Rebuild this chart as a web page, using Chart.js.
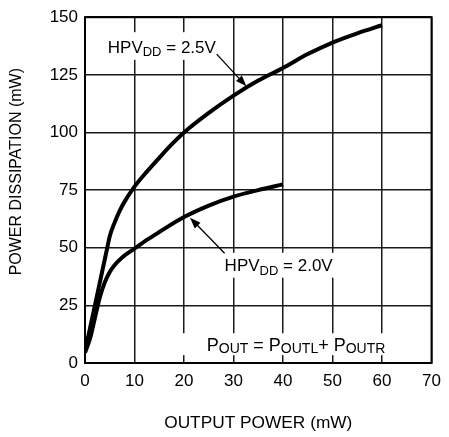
<!DOCTYPE html>
<html>
<head>
<meta charset="utf-8">
<script src="https://cdn.jsdelivr.net/npm/chart.js@4.4.1/dist/chart.umd.min.js"></script>
<style>
  html, body { margin: 0; padding: 0; background: #fff; }
</style>
</head>
<body>
<canvas id="powerChart" width="449" height="437"></canvas>
<script>
// HPVdd = 2.5V curve
const outPower25 = [0, 1, 2, 3, 4, 4.5, 5, 6, 7, 8, 10, 12.5, 15, 17.5, 20, 25, 30, 35, 40, 45, 50, 55, 60];
const dissipation25 = [5, 15, 25, 35, 45, 50, 55, 61, 66, 70, 76.5, 83, 89, 94.8, 100, 108.5, 116, 122.5, 128, 134, 139, 143, 146.5];

// HPVdd = 2.0V curve
const outPower20 = [0, 1, 2, 3, 4, 5, 6, 7.5, 10, 12.5, 15, 20, 25, 30, 35, 40];
const dissipation20 = [4.5, 10.5, 19.5, 28.5, 35, 39.5, 42.5, 45.8, 49.6, 53.4, 56.8, 63.3, 68.3, 72.2, 75, 77.5];

const xTicks = [0, 10, 20, 30, 40, 50, 60, 70];
const yTicks = [0, 25, 50, 75, 100, 125, 150];

const FONT = '"Liberation Sans", Arial, Helvetica, sans-serif';
Chart.defaults.font.family = FONT;
Chart.defaults.color = '#000';

// draws text made of pieces with their own size / vertical shift (for subscripts)
function drawRich(ctx, parts, x, y) {
  let cx = x;
  parts.forEach(([txt, size, dy]) => {
    ctx.font = size + 'px ' + FONT;
    ctx.fillText(txt, cx, y + dy);
    cx += ctx.measureText(txt).width;
  });
}

function drawArrow(ctx, x1, y1, x2, y2) {
  const ang = Math.atan2(y2 - y1, x2 - x1);
  const len = 11, half = 4;
  ctx.beginPath();
  ctx.moveTo(x1, y1);
  ctx.lineTo(x2 - Math.cos(ang) * len * 0.8, y2 - Math.sin(ang) * len * 0.8);
  ctx.lineWidth = 1.3;
  ctx.stroke();
  ctx.beginPath();
  ctx.moveTo(x2, y2);
  ctx.lineTo(x2 - Math.cos(ang) * len - Math.sin(ang) * half, y2 - Math.sin(ang) * len + Math.cos(ang) * half);
  ctx.lineTo(x2 - Math.cos(ang) * len + Math.sin(ang) * half, y2 - Math.sin(ang) * len - Math.cos(ang) * half);
  ctx.closePath();
  ctx.fill();
}

// annotation boxes/labels, placed in data units
const labelBoxes = [
  { x0: 3.6, x1: 27.6, y0: 131.5, y1: 143.5 },
  { x0: 27.6, x1: 51.4, y0: 37, y1: 47.8 },
  { x0: 11.5, x1: 67.5, y0: 3.4, y1: 12.9 }
];

const annotate = {
  id: 'annotate',
  beforeDatasetsDraw(chart) {
    const { ctx, chartArea: a, scales: { x, y } } = chart;
    ctx.save();
    ctx.fillStyle = '#fff';
    labelBoxes.forEach(b => {
      const l = x.getPixelForValue(b.x0), r = x.getPixelForValue(b.x1);
      const t = y.getPixelForValue(b.y1), btm = y.getPixelForValue(b.y0);
      ctx.fillRect(l, t, r - l, btm - t);
    });
    ctx.strokeStyle = '#000';
    ctx.lineWidth = 2;
    ctx.strokeRect(a.left, a.top, a.right - a.left, a.bottom - a.top);
    ctx.restore();
  },
  afterDatasetsDraw(chart) {
    const { ctx, scales: { x, y } } = chart;
    ctx.save();
    ctx.fillStyle = '#000';
    ctx.strokeStyle = '#000';
    ctx.textBaseline = 'alphabetic';
    ctx.textAlign = 'left';

    drawRich(ctx, [['HPV', 17, 0], ['DD', 13, 3.5], [' = 2.5V', 17, 0]],
      x.getPixelForValue(4.6), y.getPixelForValue(134.6));
    drawArrow(ctx, x.getPixelForValue(26.6), y.getPixelForValue(134), x.getPixelForValue(32.6), y.getPixelForValue(120));

    drawRich(ctx, [['HPV', 17, 0], ['DD', 13, 3.5], [' = 2.0V', 17, 0]],
      x.getPixelForValue(28.2), y.getPixelForValue(39.7));
    drawArrow(ctx, x.getPixelForValue(28.2), y.getPixelForValue(47.6), x.getPixelForValue(21.2), y.getPixelForValue(63));

    drawRich(ctx, [['P', 18, 0], ['OUT', 14, 2.5], [' = P', 18, 0], ['OUTL', 14, 2.5], ['+ P', 18, 0], ['OUTR', 14, 2.5]],
      x.getPixelForValue(24.6), y.getPixelForValue(5.4));

    // y axis title sits a little above the middle of the plot
    ctx.save();
    ctx.translate(17, y.getPixelForValue(83));
    ctx.rotate(-Math.PI / 2);
    ctx.font = '16px ' + FONT;
    ctx.textAlign = 'center';
    ctx.textBaseline = 'middle';
    ctx.fillText('POWER DISSIPATION (mW)', 0, 0);
    ctx.restore();
    ctx.restore();
  }
};

const toPoints = (xs, ys) => xs.map((v, i) => ({ x: v, y: ys[i] }));

new Chart(document.getElementById('powerChart'), {
  type: 'scatter',
  data: {
    datasets: [{
      label: 'HPVDD = 2.5V',
      data: toPoints(outPower25, dissipation25),
      showLine: true,
      borderColor: '#000',
      borderWidth: 4,
      pointRadius: 0,
      cubicInterpolationMode: 'monotone'
    }, {
      label: 'HPVDD = 2.0V',
      data: toPoints(outPower20, dissipation20),
      showLine: true,
      borderColor: '#000',
      borderWidth: 4,
      pointRadius: 0,
      cubicInterpolationMode: 'monotone'
    }]
  },
  options: {
    responsive: false,
    animation: false,
    layout: { padding: { top: 15, right: 17, left: 0, bottom: 0 } },
    plugins: {
      legend: { display: false },
      tooltip: { enabled: false }
    },
    scales: {
      x: {
        type: 'linear',
        min: 0,
        max: 70,
        afterBuildTicks: s => { s.ticks = xTicks.map(v => ({ value: v })); },
        afterFit: s => { s.height = 74; },
        grid: { color: '#1a1a1a', lineWidth: 1.5, drawTicks: false },
        border: { display: false },
        ticks: { font: { size: 17 }, padding: 8, maxRotation: 0 },
        title: { display: true, text: 'OUTPUT POWER (mW)', font: { size: 17.3 }, padding: { top: 0, bottom: 3 } }
      },
      y: {
        type: 'linear',
        min: 0,
        max: 150,
        afterBuildTicks: s => { s.ticks = yTicks.map(v => ({ value: v })); },
        afterFit: s => { s.width = 85; },
        grid: { color: '#1a1a1a', lineWidth: 1.5, drawTicks: false },
        border: { display: false },
        ticks: { font: { size: 17 }, padding: 7 },
        title: { display: false }
      }
    }
  },
  plugins: [annotate]
});
</script>
</body>
</html>
